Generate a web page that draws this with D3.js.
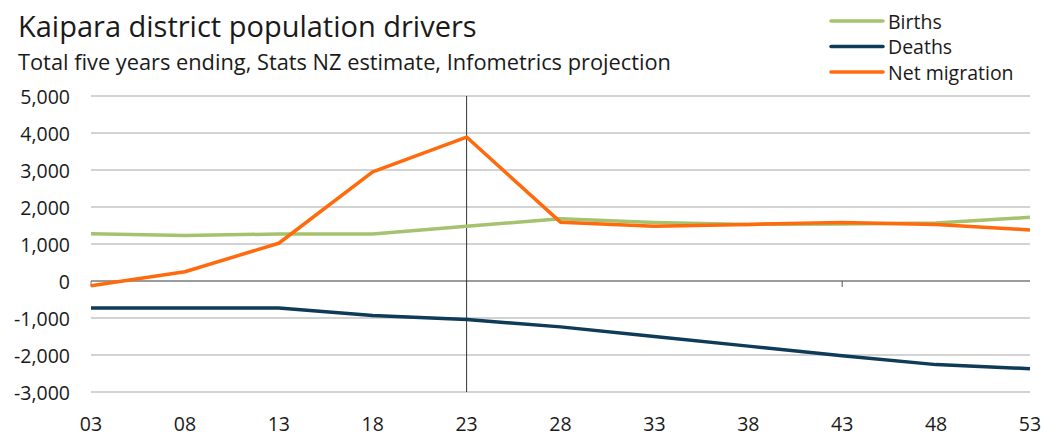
<!DOCTYPE html>
<html>
<head>
<script src="https://d3js.org/d3.v7.min.js"></script>
<style>
  body { margin: 0; background: #fff; }
  text { font-family: "Open Sans", sans-serif; fill: #1a1a1a; }
</style>
</head>
<body>
<div id="chart"></div>
<script>
const width = 1044, height = 437
const years = ["03", "08", "13", "18", "23", "28", "33", "38", "43", "48", "53"]
const births = [1280, 1230, 1270, 1270, 1480, 1680, 1580, 1530, 1540, 1570, 1720]
const deaths = [-730, -730, -730, -930, -1040, -1240, -1500, -1760, -2020, -2260, -2370]
const netMigration = [-130, 250, 1020, 2950, 3890, 1590, 1480, 1530, 1580, 1530, 1380]
const yTicks = [5000, 4000, 3000, 2000, 1000, 0, -1000, -2000, -3000]

const series = [
    { name: "Births", values: births, color: "#a5c36e" },
    { name: "Deaths", values: deaths, color: "#0d3b58" },
    { name: "Net migration", values: netMigration, color: "#ff6a0d" }
]

const svg = d3.select("#chart").append("svg")
    .attr("width", width).attr("height", height)

const x = d3.scalePoint().domain(years).range([91, 1030])
const y = d3.scaleLinear().domain([-3000, 5000]).range([392, 96])

// gridlines
svg.append("g").selectAll("line")
    .data(yTicks.filter(d => d !== 0))
    .join("line")
    .attr("x1", 91).attr("x2", 1030)
    .attr("y1", d => y(d)).attr("y2", d => y(d))
    .attr("stroke", "#c4c4c4").attr("stroke-width", 1.3)

// y labels
svg.append("g").selectAll("text")
    .data(yTicks)
    .join("text")
    .attr("x", 70).attr("y", d => y(d))
    .attr("text-anchor", "end").attr("dominant-baseline", "central")
    .style("font-size", "19.5px")
    .text(d => d3.format(",")(d).replace("−", "-"))

// x labels
svg.append("g").selectAll("text")
    .data(years)
    .join("text")
    .attr("x", d => x(d)).attr("y", 423)
    .attr("text-anchor", "middle").attr("dominant-baseline", "central")
    .style("font-size", "19.5px")
    .text(d => d)

// zero axis
svg.append("line")
    .attr("x1", 91).attr("x2", 1030)
    .attr("y1", y(0)).attr("y2", y(0))
    .attr("stroke", "#7a7a7a").attr("stroke-width", 1.5)
svg.append("line")
    .attr("x1", x("43")).attr("x2", x("43"))
    .attr("y1", y(0)).attr("y2", y(0) + 6)
    .attr("stroke", "#555").attr("stroke-width", 1)
svg.append("line")
    .attr("x1", 91).attr("x2", 91)
    .attr("y1", y(0)).attr("y2", y(0) + 6)
    .attr("stroke", "#777").attr("stroke-width", 1)

// projection divider
svg.append("line")
    .attr("x1", x("23")).attr("x2", x("23"))
    .attr("y1", y(5000)).attr("y2", y(-3000))
    .attr("stroke", "#333").attr("stroke-width", 1)

const line = d3.line()
    .x((d, i) => x(years[i]))
    .y(d => y(d))

svg.append("g").selectAll("path")
    .data(series)
    .join("path")
    .attr("d", d => line(d.values))
    .attr("fill", "none")
    .attr("stroke", d => d.color)
    .attr("stroke-width", 3.5)
    .attr("stroke-linejoin", "round")

// title
svg.append("text").attr("x", 18).attr("y", 37)
    .style("font-size", "29px").text("Kaipara district population drivers")
svg.append("text").attr("x", 18).attr("y", 70)
    .style("font-size", "21.8px").text("Total five years ending, Stats NZ estimate, Infometrics projection")

// legend
const legend = svg.append("g").selectAll("g")
    .data(series)
    .join("g")
    .attr("transform", (d, i) => `translate(831, ${21 + i * 25.5})`)
legend.append("line")
    .attr("x1", 0).attr("x2", 52)
    .attr("stroke", d => d.color).attr("stroke-width", 3.5)
    .attr("stroke-linecap", "round")
legend.append("text")
    .attr("x", 57).attr("dominant-baseline", "central")
    .style("font-size", "19.5px")
    .text(d => d.name)
</script>
</body>
</html>
